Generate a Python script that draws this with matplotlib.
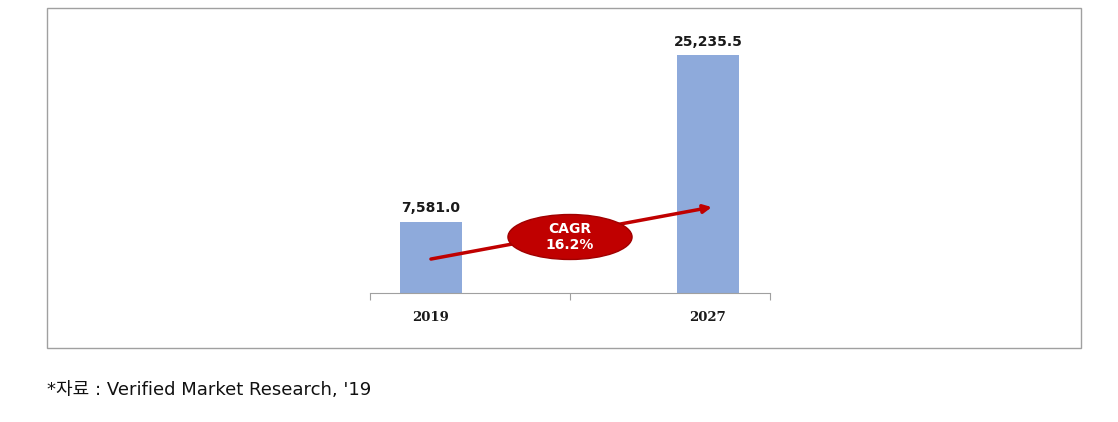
import matplotlib.pyplot as plt
from matplotlib.patches import Ellipse, Rectangle

years = ['2019', '2027']
values = [7581.0, 25235.5]
cagr = '16.2%'
source = "*자료 : Verified Market Research, '19"

plt.rcParams['font.family'] = ['DejaVu Sans']

fig = plt.figure(figsize=(11.18, 4.22), dpi=100)
fig.patches.append(Rectangle((47 / 1118, 1 - 348 / 422), 1034 / 1118, 340 / 422,
                             transform=fig.transFigure, fill=False,
                             edgecolor='#a0a0a0', linewidth=1))

ax = fig.add_axes([370 / 1118, 1 - 293 / 422, 400 / 1118, 264 / 422])
x = [0, 1]
ax.bar(x, values, width=0.227, color='#8eaadb', zorder=2)
ax.set_xlim(-0.22, 1.224)
ax.set_ylim(0, 28000)

for xi, v in zip(x, values):
    ax.text(xi, v + 650, f'{v:,.1f}', ha='center', va='bottom',
            fontsize=10, fontweight='bold', color='#1a1a1a')

# arrow + CAGR ellipse
ax.annotate('', xy=(1.014, values[1] * 0.361), xytext=(0.0, values[0] * 0.475),
            arrowprops=dict(arrowstyle='-|>', color='#c00000', lw=2.5,
                            mutation_scale=12, shrinkA=0, shrinkB=0), zorder=3)
ax.add_patch(Ellipse((0.502, 5940), 0.448, 4770, facecolor='#c00000',
                     edgecolor='#a00000', zorder=4, clip_on=False))
ax.text(0.502, 5940, f'CAGR\n{cagr}', ha='center', va='center', color='white',
        fontsize=10, fontweight='bold', zorder=5, linespacing=1.25)

for s in ['top', 'right', 'left']:
    ax.spines[s].set_visible(False)
ax.spines['bottom'].set_color('#a0a0a0')
ax.set_yticks([])
ax.set_xticks([-0.22, 0.502, 1.224])
ax.set_xticklabels([])
ax.tick_params(axis='x', length=5, color='#a0a0a0', direction='out')

for xi, yr in zip(x, years):
    ax.text(xi, -2650, yr, ha='center', va='center', fontsize=9.5,
            fontweight='bold', family='DejaVu Serif', color='#1a1a1a')

fig.text(47 / 1118, 1 - 390 / 422, source, ha='left', va='center', fontsize=13,
         family=['DejaVu Sans', 'Noto Sans CJK KR'], color='#111111')

fig.savefig('out.png', dpi=100)
